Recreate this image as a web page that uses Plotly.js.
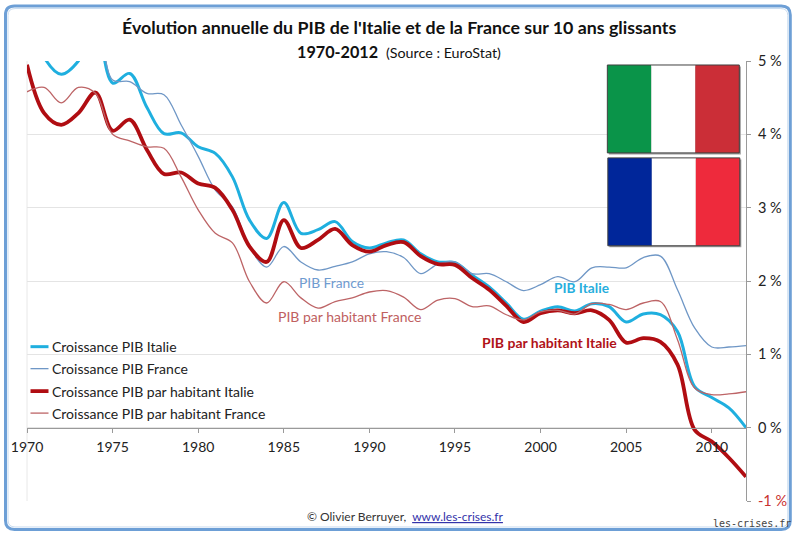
<!DOCTYPE html>
<html><head><meta charset="utf-8">
<script src="https://cdn.plot.ly/plotly-3.0.1.min.js"></script>
<style>html,body{margin:0;padding:0;background:#fff}#c{width:800px;height:539px}</style>
</head><body><div id="c"></div>
<script>
const years=[1970,1971,1972,1973,1974,1975,1976,1977,1978,1979,1980,1981,1982,1983,1984,1985,1986,1987,1988,1989,1990,1991,1992,1993,1994,1995,1996,1997,1998,1999,2000,2001,2002,2003,2004,2005,2006,2007,2008,2009,2010,2011,2012];
const pibItalie=[5.8,5.05,4.82,5.0,5.5,4.70,4.83,4.37,4.01,4.02,3.83,3.74,3.42,2.83,2.58,3.07,2.65,2.70,2.81,2.54,2.45,2.52,2.56,2.37,2.26,2.25,2.08,1.92,1.70,1.48,1.59,1.65,1.59,1.69,1.65,1.44,1.55,1.54,1.31,0.56,0.41,0.27,0.0];
const pibFrance=[5.7,5.5,5.3,5.4,5.6,4.74,4.72,4.56,4.54,4.13,3.70,3.24,3.01,2.47,2.19,2.47,2.26,2.15,2.20,2.26,2.37,2.40,2.32,2.10,2.23,2.26,2.10,2.10,1.99,1.87,1.95,2.06,1.99,2.18,2.19,2.18,2.32,2.34,1.88,1.36,1.10,1.10,1.12];
const habItalie=[4.95,4.29,4.13,4.29,4.57,4.05,4.20,3.79,3.46,3.48,3.33,3.27,2.97,2.47,2.26,2.83,2.45,2.56,2.71,2.49,2.40,2.49,2.53,2.34,2.23,2.22,2.04,1.88,1.66,1.44,1.56,1.60,1.56,1.60,1.47,1.16,1.22,1.17,0.86,-0.03,-0.19,-0.41,-0.67];
const habFrance=[4.58,4.64,4.43,4.64,4.56,4.0,3.91,3.83,3.81,3.42,2.97,2.65,2.52,1.99,1.70,1.99,1.77,1.63,1.72,1.77,1.85,1.87,1.78,1.61,1.74,1.76,1.65,1.66,1.54,1.47,1.58,1.60,1.55,1.69,1.68,1.61,1.70,1.72,1.20,0.54,0.45,0.46,0.49];
const yTickVals=[-1,0,1,2,3,4,5];
const yTickText=['<span style="color:#c8312f">-1 %</span>','0 %','1 %','2 %','3 %','4 %','5 %'];
const xTickVals=[1970,1975,1980,1985,1990,1995,2000,2005,2010];
const seriesNames=['Croissance PIB Italie','Croissance PIB France','Croissance PIB par habitant Italie','Croissance PIB par habitant France'];
const seriesColors=['#1fafdf','#6f97c6','#b00d12','#bd6466'];
const seriesWidths=[3,1.3,3.8,1.3];
const FONT='Lato, "Open Sans", sans-serif';
const L=26.5,R=745.7,T=61,B=501.5;
const px=x=>(x-L)/(R-L), py=y=>(B-y)/(B-T);
const traces=[pibItalie,pibFrance,habItalie,habFrance].map((y,i)=>({x:years,y:y,name:seriesNames[i],mode:'lines',showlegend:false,
  line:{color:seriesColors[i],width:seriesWidths[i],shape:'spline',smoothing:1},hoverinfo:'skip'}));
function rect(x0,y0,x1,y1,fill,line){
  return {type:'rect',xref:'paper',yref:'paper',x0:px(x0),x1:px(x1),y0:py(y0),y1:py(y1),
    fillcolor:fill,line:line?{color:line,width:1}:{width:0},layer:'above'};
}
function frame(x0,y0,x1,y1,r,color,w){
  const X=v=>px(v),Y=v=>py(v);
  const d=`M${X(x0+r)},${Y(y0)} L${X(x1-r)},${Y(y0)} Q${X(x1)},${Y(y0)} ${X(x1)},${Y(y0+r)} L${X(x1)},${Y(y1-r)} Q${X(x1)},${Y(y1)} ${X(x1-r)},${Y(y1)} L${X(x0+r)},${Y(y1)} Q${X(x0)},${Y(y1)} ${X(x0)},${Y(y1-r)} L${X(x0)},${Y(y0+r)} Q${X(x0)},${Y(y0)} ${X(x0+r)},${Y(y0)} Z`;
  return {type:'path',xref:'paper',yref:'paper',path:d,line:{color:color,width:w},layer:'below'};
}
function flag(x0,y0,w,h,a,b,c){
  const t=w/3;
  return [rect(x0+1.5,y0+1.5,x0+w+1.5,y0+h+1.5,'#9a9a9a'),
    rect(x0,y0,x0+t,y0+h,a),rect(x0+t,y0,x0+2*t,y0+h,b),rect(x0+2*t,y0,x0+w,y0+h,c),
    rect(x0,y0,x0+w,y0+h,'rgba(0,0,0,0)','#404040')];
}
const legendRows=[347,369,391.5,413.5];
const legendLines=legendRows.map((y,i)=>({type:'line',xref:'paper',yref:'paper',x0:px(30),x1:px(48),y0:py(y),y1:py(y),
  line:{color:seriesColors[i],width:seriesWidths[i]},layer:'above'}));
const shapes=[
  frame(5,6,790,530,9,'#6d9fd6',3),
  frame(7.5,8.5,787.5,527.5,7,'#c9dcf0',1),
  {type:'line',xref:'paper',yref:'paper',x0:0,x1:0,y0:0,y1:1,line:{color:'#e8e8e8',width:1},layer:'below'},
  ...flag(607,65,132,88,'#0a9449','#ffffff','#cb2e37'),
  ...flag(607.5,158,132,88,'#00269a','#ffffff','#ee2a3c'),
  ...legendLines
];
function note(x,y,text,size,color,extra){
  return Object.assign({xref:'paper',yref:'paper',x:px(x),y:py(y),text:text,showarrow:false,
    font:{family:FONT,size:size,color:color},xanchor:'center',yanchor:'middle'},extra||{});
}
const legendText=legendRows.map((y,i)=>note(50,y,seriesNames[i],14,'#222',{xanchor:'left'}));
const annotations=[
  note(399,26.5,"<b>Évolution annuelle du PIB de l'Italie et de la France sur 10 ans glissants</b>",17.8,'#111'),
  note(399,51,'<b>1970-2012</b> <span style="font-size:14.3px"> (Source : EuroStat)</span>',16.2,'#111'),
  note(331,283,'PIB France',13.8,'#6f9bd0'),
  note(349,317,'PIB par habitant France',14,'#c0605f'),
  note(581,288,'<b>PIB Italie</b>',13.7,'#27aedd'),
  note(549,343,'<b>PIB par habitant Italie</b>',14,'#b01218'),
  note(405,517,'© Olivier Berruyer,  <span style="color:#3333aa"><u>www.les-crises.fr</u></span>',12,'#333'),
  note(751.5,524,'les-crises.fr',10,'#444',{font:{family:'"DejaVu Sans Mono", monospace',size:10,color:'#444'}}),
  ...legendText
];
const layout={
  width:800,height:539,margin:{l:L,r:800-R,t:T,b:539-B,pad:0},
  paper_bgcolor:'#fff',plot_bgcolor:'rgba(0,0,0,0)',
  font:{family:FONT,size:14,color:'#222'},showlegend:false,
  xaxis:{range:[1970,2012],tickvals:xTickVals,tickformat:'d',anchor:'free',position:1/6,
    showgrid:false,zeroline:false,showline:true,linecolor:'#9a9a9a',linewidth:1,
    ticks:'outside',ticklen:4,tickcolor:'#9a9a9a',ticklabelstandoff:3,tickfont:{family:FONT,size:14,color:'#222'},automargin:false},
  yaxis:{range:[-1,5],side:'right',tickvals:yTickVals,ticktext:yTickText,showgrid:true,gridcolor:'#e4e4e4',gridwidth:1,
    zeroline:false,showline:true,linecolor:'#9a9a9a',linewidth:1,ticks:'outside',ticklen:4,tickcolor:'#9a9a9a',ticklabelstandoff:4,
    tickfont:{family:FONT,size:14.5,color:'#222'},automargin:false},
  shapes:shapes,
  annotations:annotations
};
Plotly.newPlot('c',traces,layout,{displayModeBar:false,staticPlot:true});
</script></body></html>
